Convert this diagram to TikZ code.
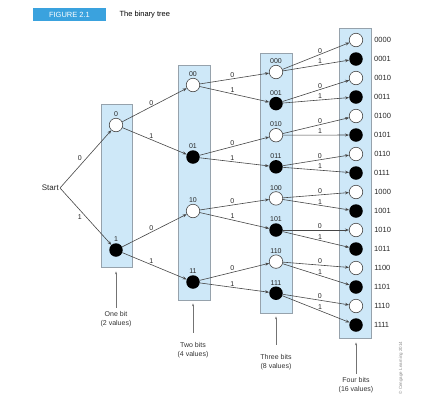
\documentclass[tikz,border=0pt]{standalone}
\usepackage{fontspec}
\setmainfont{Liberation Sans}
\usetikzlibrary{arrows.meta}
\definecolor{colfill}{RGB}{206,232,248}
\definecolor{colline}{RGB}{150,162,172}
\definecolor{figblue}{RGB}{58,162,222}
\definecolor{edgegray}{RGB}{70,70,70}
\tikzset{
  bitzero/.style={circle, draw=edgegray, fill=white, line width=0.6pt, minimum size=13.5pt, inner sep=0pt},
  bitone/.style={circle, fill=black, minimum size=13.5pt, inner sep=0pt},
  colbox/.style={draw=colline, fill=colfill, line width=0.8pt, inner sep=0pt},
  edge/.style={draw=edgegray, line width=0.6pt, -{Stealth[length=4pt,width=3pt]}},
  lbl/.style={font=\fontsize{7}{8}\selectfont, text=black!85, inner sep=1pt},
  codelbl/.style={font=\fontsize{7.5}{8}\selectfont, text=black!85, inner sep=1pt},
  note/.style={draw=black!55, line width=0.4pt, -{Stealth[length=3pt,width=2pt]}},
  notetext/.style={font=\fontsize{7}{8.5}\selectfont, align=center, text=black!80}
}
\begin{document}
\begin{tikzpicture}[x=1pt, y=-1pt]
\useasboundingbox (0,0) rectangle (448,405);
% Heading
\node[fill=figblue, text=white, minimum width=73pt, minimum height=13pt, inner sep=0pt, font=\fontsize{7.5}{8}\selectfont] (fig) at (69.5,14.5) {FIGURE 2.1};
\node[anchor=west, font=\fontsize{7.5}{8}\selectfont] (title) at (116,15) {The binary tree};
% Column boxes
\node[colbox, minimum width=31pt, minimum height=163pt] (box1) at (116.5,185.5) {};
\node[colbox, minimum width=32pt, minimum height=235pt] (box2) at (194,182.5) {};
\node[colbox, minimum width=32pt, minimum height=260pt] (box3) at (276,183) {};
\node[colbox, minimum width=32pt, minimum height=310pt] (box4) at (355,183) {};
% Start
\node[anchor=east, font=\fontsize{8}{9}\selectfont, text=black!85, inner sep=1pt] (start) at (60,188) {Start};
% One bit
\node[bitzero, label={[lbl]above:0}] (n0) at (116,125) {};
\node[bitone, label={[lbl]above:1}] (n1) at (116,250) {};
% Two bits
\foreach \b/\y/\s in {00/85/bitzero, 01/157/bitone, 10/211/bitzero, 11/282/bitone}
  \node[\s, label={[lbl]above:\b}] (n\b) at (193,\y) {};
% Three bits
\foreach \b/\y/\s in {000/72/bitzero, 001/103.6/bitone, 010/135.2/bitzero, 011/166.8/bitone,
    100/198.4/bitzero, 101/230/bitone, 110/261.6/bitzero, 111/293.2/bitone}
  \node[\s, label={[lbl]above:\b}] (n\b) at (276,\y) {};
% Four bits
\foreach \b/\y/\s in {0000/40/bitzero, 0001/59/bitone, 0010/78/bitzero, 0011/97/bitone,
    0100/116/bitzero, 0101/135/bitone, 0110/154/bitzero, 0111/173/bitone,
    1000/192/bitzero, 1001/211/bitone, 1010/230/bitzero, 1011/249/bitone,
    1100/268/bitzero, 1101/287/bitone, 1110/306/bitzero, 1111/325/bitone}
  \node[\s, label={[codelbl, label distance=10pt]right:\b}] (n\b) at (356,\y) {};
% Edges
\draw[edge] (start.east) -- node[lbl, above left, pos=0.45] {0} (n0);
\draw[edge] (start.east) -- node[lbl, below left, pos=0.45] {1} (n1);
\foreach \p in {0,1} {
  \draw[edge] (n\p) -- node[lbl, above, pos=0.45] {0} (n\p0);
  \draw[edge] (n\p) -- node[lbl, above, pos=0.45] {1} (n\p1);
}
\foreach \p in {00,01,10,11} {
  \draw[edge] (n\p) -- node[lbl, above, pos=0.47] {0} (n\p0);
  \draw[edge] (n\p) -- node[lbl, above, pos=0.47] {1} (n\p1);
}
\foreach \p in {000,001,010,011,100,101,110,111} {
  \draw[edge] (n\p) -- node[lbl, above, pos=0.56] {0} (n\p0);
  \draw[edge] (n\p) -- node[lbl, above, pos=0.56] {1} (n\p1);
}
% Notes under the columns
\node[notetext] (bits1) at (116,319) {One bit\\(2 values)};
\node[notetext] (bits2) at (193,350) {Two bits\\(4 values)};
\node[notetext] (bits3) at (276,362) {Three bits\\(8 values)};
\node[notetext] (bits4) at (356,385) {Four bits\\(16 values)};
\draw[note, shorten >=4pt] (bits1.north) -- (bits1.north |- box1.south);
\draw[note, shorten >=3pt, shorten <=6pt] (bits2.north) -- (bits2.north |- box2.south);
\draw[note, shorten >=3pt, shorten <=6pt] (bits3.north) -- (bits3.north |- box3.south);
\draw[note, shorten >=4pt] (bits4.north) -- (bits4.north |- box4.south);
\node[rotate=90, font=\fontsize{4.5}{5}\selectfont, text=black!45] (copy) at (401,368) {\textcopyright\ Cengage Learning 2014};
\end{tikzpicture}
\end{document}
